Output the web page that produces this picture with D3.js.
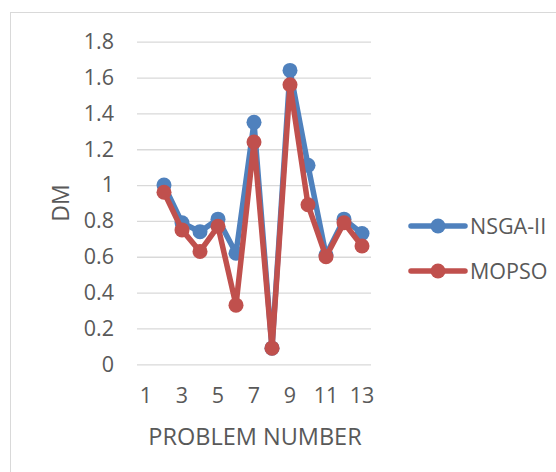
<!DOCTYPE html>
<html>
<head>
<meta charset="utf-8">
<script src="https://cdn.jsdelivr.net/npm/d3@7"></script>
<style>
  html, body { margin: 0; padding: 0; background: #fff; }
  svg { display: block; }
  text { font-family: "Open Sans", sans-serif; fill: #595959; }
</style>
</head>
<body>
<svg id="chart" width="556" height="472"></svg>
<script>
const problems = [1, 2, 3, 4, 5, 6, 7, 8, 9, 10, 11, 12, 13];
const nsga  = [null, 1.00, 0.79, 0.74, 0.81, 0.62, 1.35, 0.09, 1.64, 1.11, 0.61, 0.81, 0.73];
const mopso = [null, 0.96, 0.75, 0.63, 0.77, 0.33, 1.24, 0.09, 1.56, 0.89, 0.60, 0.79, 0.66];
const yTicks = [0, 0.2, 0.4, 0.6, 0.8, 1, 1.2, 1.4, 1.6, 1.8];
const xTickLabels = [1, 3, 5, 7, 9, 11, 13];
const seriesNames = ["NSGA-II", "MOPSO"];
const seriesColors = ["#4f81bd", "#c0504d"];
const xTitle = "PROBLEM NUMBER";
const yTitle = "DM";

const svg = d3.select("#chart");

// chart border
svg.append("rect")
  .attr("x", 10.5).attr("y", 12.5)
  .attr("width", 600).attr("height", 500)
  .attr("fill", "#fff").attr("stroke", "#d9d9d9").attr("stroke-width", 1);

const plot = { left: 137, right: 371, top: 41.7, bottom: 364.3 };

const x = d3.scaleBand().domain(problems).range([plot.left, plot.right]).padding(0);
const cx = d => x(d) + x.bandwidth() / 2;
const y = d3.scaleLinear().domain([0, 1.8]).range([plot.bottom, plot.top]);

// gridlines + y labels
const yAxis = d3.axisLeft(y).tickValues(yTicks).tickSize(-(plot.right - plot.left)).tickPadding(23)
  .tickFormat(d => d3.format("")(+d.toFixed(1)));
const gy = svg.append("g").attr("transform", `translate(${plot.left},0)`).call(yAxis);
gy.select(".domain").remove();
gy.selectAll(".tick line").attr("stroke", "#d9d9d9").attr("stroke-width", 1.3);
gy.selectAll(".tick text").attr("font-size", 21.5).attr("fill", "#595959")
  .attr("font-family", "Open Sans, sans-serif");

// x axis labels
const xAxis = d3.axisBottom(x).tickValues(xTickLabels).tickSize(0).tickPadding(0);
const gx = svg.append("g").attr("transform", `translate(0,${plot.bottom})`).call(xAxis);
gx.select(".domain").remove();
gx.selectAll(".tick text").attr("font-size", 21.5).attr("fill", "#595959")
  .attr("font-family", "Open Sans, sans-serif")
  .attr("dy", null).attr("y", 39);

// axis titles
svg.append("text").attr("x", (plot.left + plot.right) / 2 + 1).attr("y", 445)
  .attr("text-anchor", "middle").attr("font-size", 23.5).text(xTitle);
svg.append("text")
  .attr("transform", `translate(68.5,${(plot.top + plot.bottom) / 2}) rotate(-90)`)
  .attr("text-anchor", "middle").attr("font-size", 23).text(yTitle);

// series
const allSeries = [nsga, mopso];
allSeries.forEach((vals, i) => {
  const pts = problems.map((p, j) => ({ p, v: vals[j] })).filter(d => d.v != null);
  const line = d3.line().x(d => cx(d.p)).y(d => y(d.v));
  svg.append("path").datum(pts).attr("d", line)
    .attr("fill", "none").attr("stroke", seriesColors[i]).attr("stroke-width", 5.5)
    .attr("stroke-linejoin", "round");
  svg.append("g").selectAll("circle").data(pts).join("circle")
    .attr("cx", d => cx(d.p)).attr("cy", d => y(d.v)).attr("r", 7.5)
    .attr("fill", seriesColors[i]);
});

// legend
const legendY = [226, 271];
seriesNames.forEach((name, i) => {
  const g = svg.append("g").attr("transform", `translate(0,${legendY[i]})`);
  g.append("line").attr("x1", 411).attr("x2", 465).attr("y1", 0).attr("y2", 0)
    .attr("stroke", seriesColors[i]).attr("stroke-width", 5.5).attr("stroke-linecap", "round");
  g.append("circle").attr("cx", 438).attr("cy", 0).attr("r", 7.5).attr("fill", seriesColors[i]);
  g.append("text").attr("x", 470).attr("y", 0).attr("dy", "0.35em")
    .attr("font-size", 21.5).text(name);
});
</script>
</body>
</html>
